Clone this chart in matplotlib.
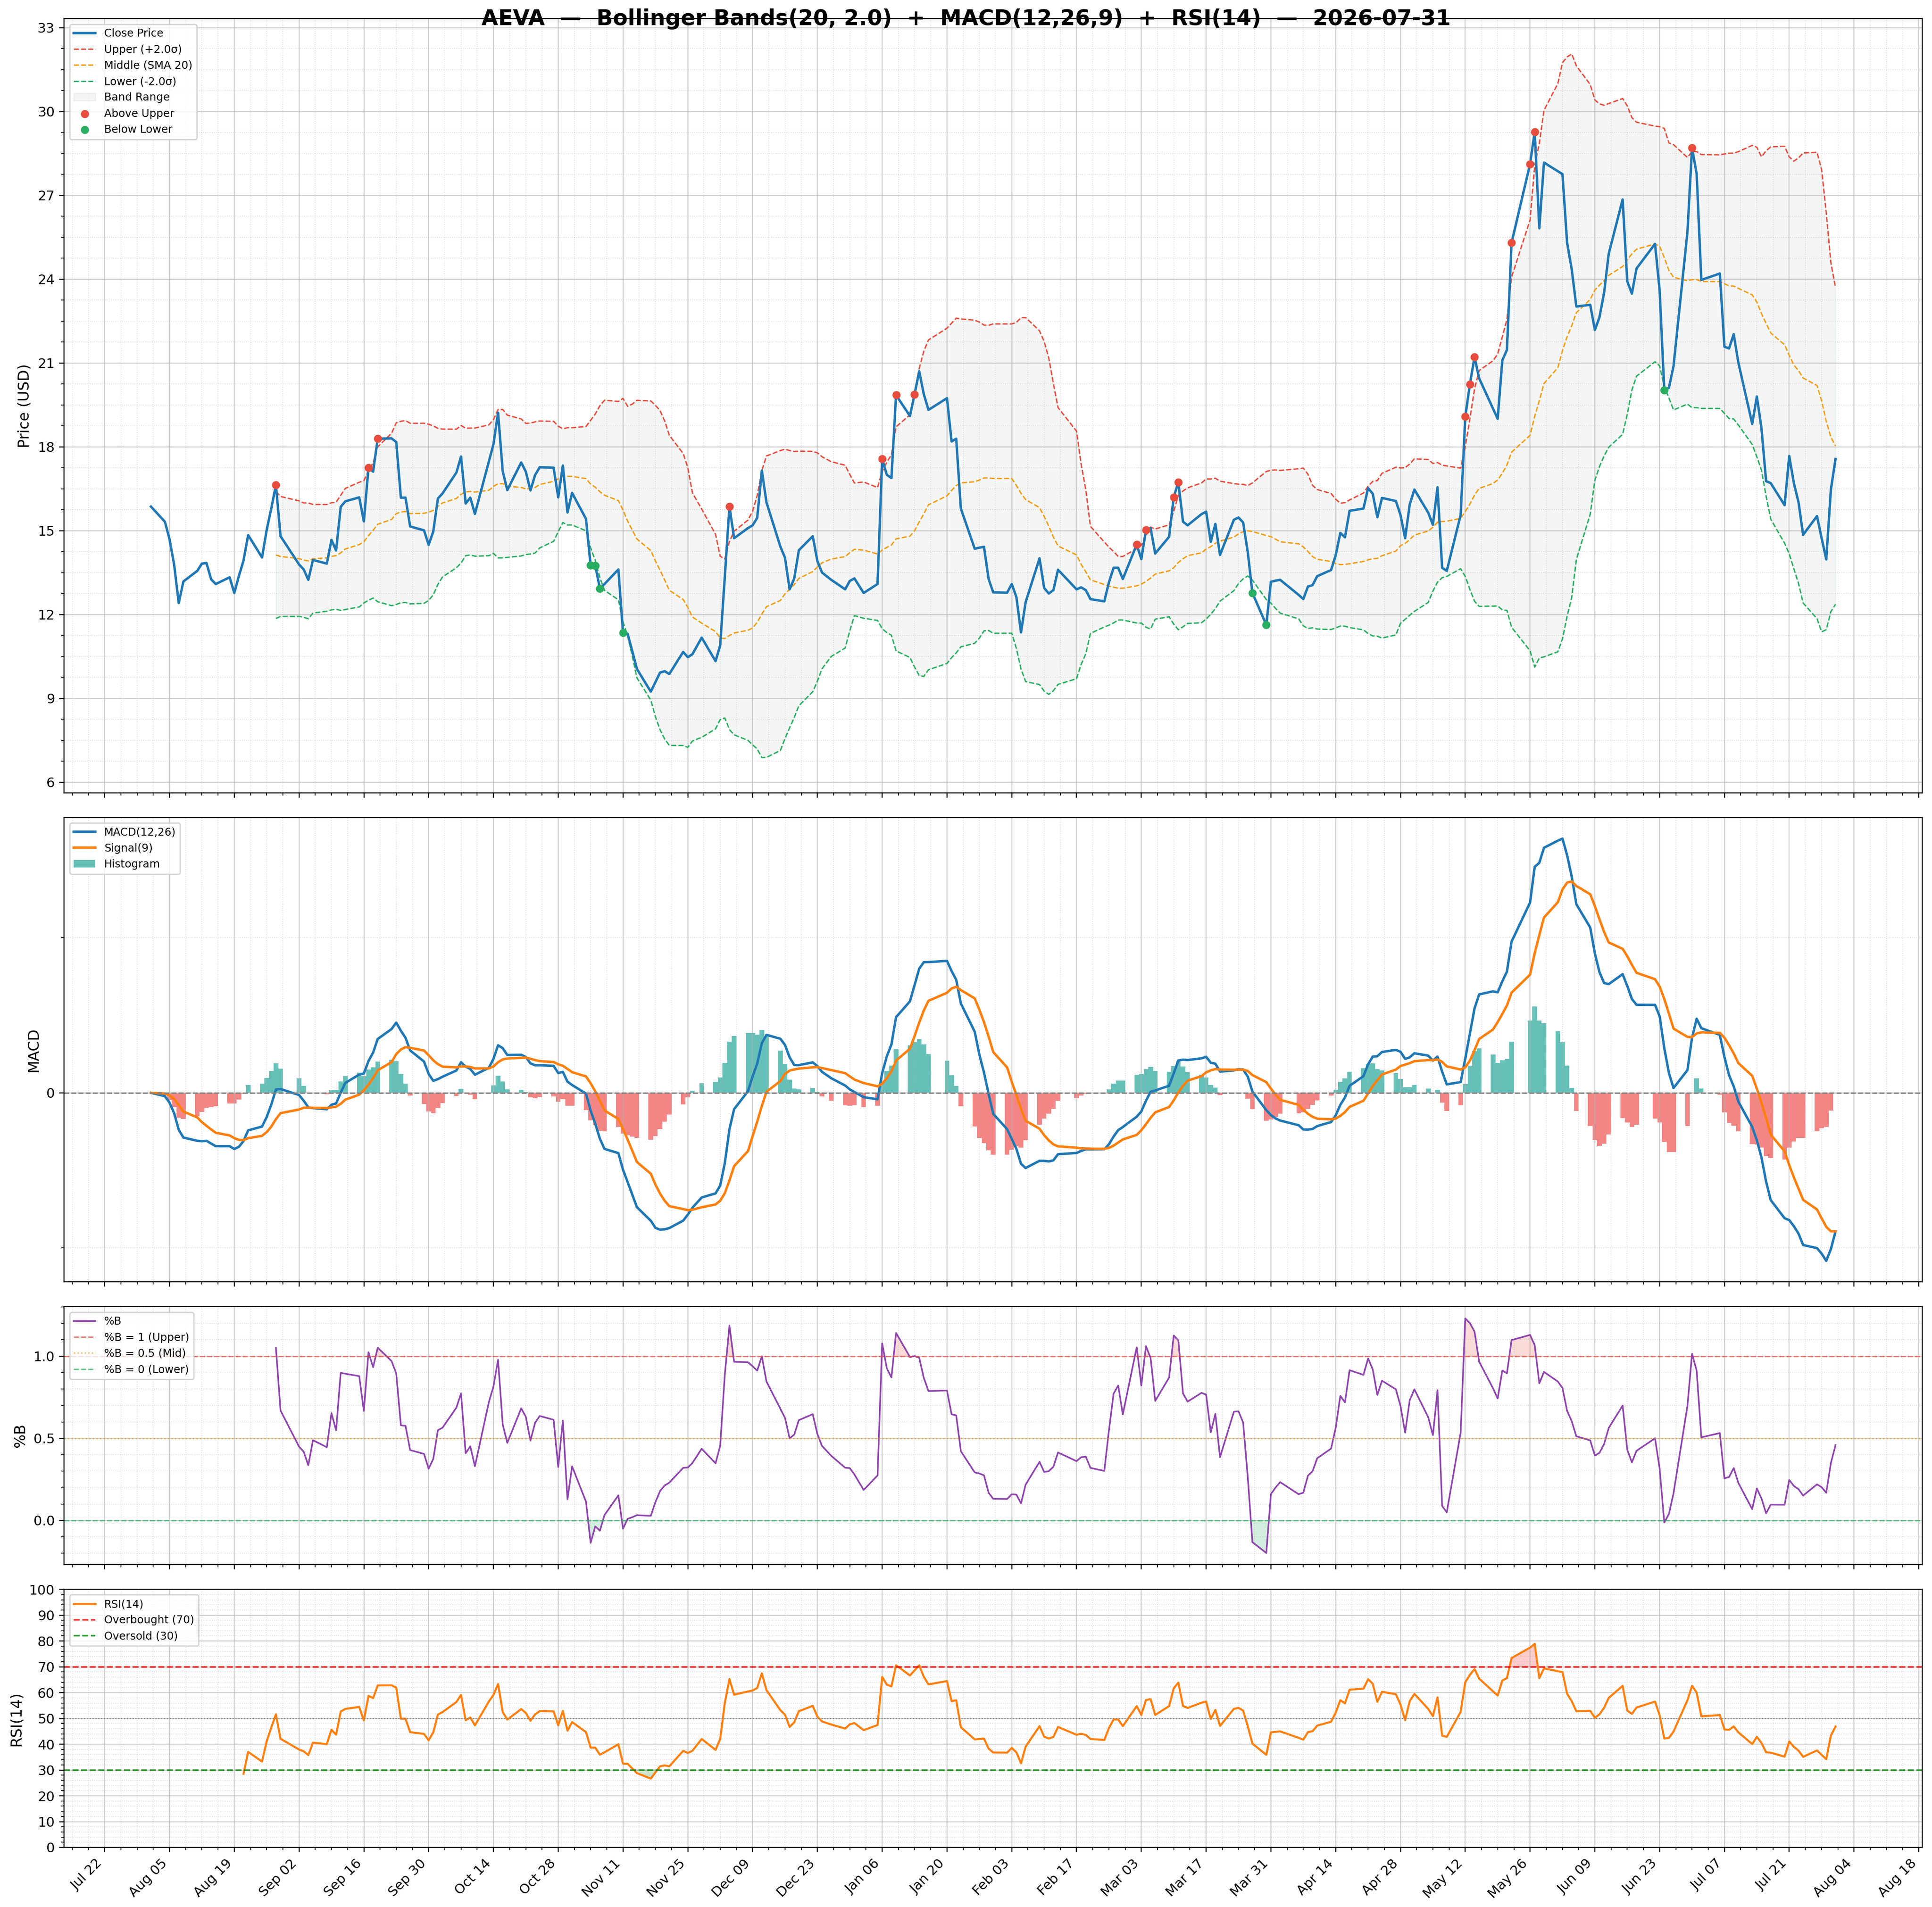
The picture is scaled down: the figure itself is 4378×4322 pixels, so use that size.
import numpy as np
import pandas as pd
import matplotlib
matplotlib.use("Agg")
import matplotlib.pyplot as plt
import matplotlib.dates as mdates
from matplotlib.ticker import MultipleLocator, AutoMinorLocator, FixedLocator

# daily closes on trading days, Aug 2025 -> Jul 2026
close_aug = [15.86, 15.32, 14.70, 13.79, 12.41, 13.18, 13.56, 13.82, 13.84, 13.26, 13.09,
             13.33, 12.77, 13.38, 13.93, 14.84, 14.04, 15.02, 15.80, 16.63, 14.80]
close_sep = [13.79, 13.61, 13.24, 13.95, 13.82, 14.67, 14.29, 15.85, 16.05, 16.19,
             15.33, 17.25, 17.11, 18.29, 18.30, 18.17, 16.18, 16.18, 15.15, 15.01, 14.49]
close_oct = [14.97, 16.15, 16.33, 17.08, 17.65, 15.97, 16.18, 15.60, 17.47, 18.09, 19.22,
             17.13, 16.45, 17.44, 17.11, 16.44, 16.99, 17.27, 17.25, 16.19, 17.33, 15.65, 16.35]
close_nov = [15.42, 13.76, 13.75, 12.93, 13.09, 13.61, 11.34, 11.31, 10.69, 10.05, 9.24,
             9.58, 9.92, 9.97, 9.87, 10.66, 10.47, 10.58, 11.17]
close_dec = [10.33, 10.90, 13.36, 15.87, 14.73, 15.09, 15.19, 15.46, 17.15, 16.01, 14.43,
             14.03, 12.90, 13.29, 14.30, 14.80, 13.91, 13.50, 13.24, 12.90, 13.20, 13.29]
close_jan = [12.77, 13.09, 17.56, 17.00, 16.88, 19.85, 19.10, 19.88, 20.70, 19.88,
             19.32, 19.74, 18.19, 18.29, 15.79, 14.35, 14.39, 14.42, 13.27, 12.79]
close_feb = [12.78, 13.09, 12.62, 11.36, 12.44, 14.01, 12.95, 12.75, 12.87, 13.60,
             12.90, 12.97, 12.87, 12.55, 12.47, 13.15, 13.67, 13.67, 13.27]
close_mar = [14.50, 13.98, 15.02, 15.09, 14.18, 14.78, 16.20, 16.73, 15.32, 15.19, 15.59,
             15.68, 14.60, 15.24, 14.13, 15.39, 15.47, 15.29, 14.23, 12.77, 11.63, 13.17]
close_apr = [13.21, 13.24, 12.70, 12.55, 13.00, 13.05, 13.37, 13.59, 14.12, 14.92,
             14.76, 15.71, 15.79, 16.52, 16.32, 15.48, 16.17, 16.06, 15.56, 14.73, 15.94]
close_may = [16.47, 15.64, 15.21, 16.55, 13.67, 13.56, 15.56, 19.08, 20.24, 21.21, 20.45,
             19.36, 19.00, 21.09, 21.47, 25.30, 28.12, 29.27, 25.82, 28.17]
close_jun = [27.86, 27.76, 25.30, 24.35, 23.02, 23.08, 22.18, 22.64, 23.52, 24.91, 26.85,
             23.92, 23.48, 24.38, 25.26, 23.59, 20.03, 20.11, 20.89, 25.68, 28.70]
close_jul = [27.76, 23.97, 24.20, 21.58, 21.52, 22.03, 21.02, 18.82, 19.80, 18.67,
             16.77, 16.70, 15.91, 17.67, 16.70, 16.02, 14.85, 15.52, 14.73, 13.97, 16.47, 17.56]

# market holidays (no bar on these days)
holidays = ["2025-09-01", "2025-11-27", "2025-12-25", "2026-01-01", "2026-01-19",
            "2026-02-16", "2026-04-03", "2026-05-25", "2026-06-19", "2026-07-03"]

ticker = "AEVA"
end_date = "2026-07-31"

dates = pd.bdate_range("2025-08-01", end_date, freq="C", holidays=holidays)
close = pd.Series(close_aug + close_sep + close_oct + close_nov + close_dec + close_jan +
                  close_feb + close_mar + close_apr + close_may + close_jun + close_jul,
                  index=dates)

# indicators
win, k = 20, 2.0
mid = close.rolling(win).mean()
sd = close.rolling(win).std()
upper = mid + k * sd
lower = mid - k * sd
pctb = (close - lower) / (upper - lower)

ema12 = close.ewm(span=12, adjust=False).mean()
ema26 = close.ewm(span=26, adjust=False).mean()
macd = ema12 - ema26
signal = macd.ewm(span=9, adjust=False).mean()
hist = macd - signal

delta = close.diff()
gain = delta.clip(lower=0).ewm(alpha=1/14, adjust=False, min_periods=14).mean()
loss = (-delta.clip(upper=0)).ewm(alpha=1/14, adjust=False, min_periods=14).mean()
rsi = 100 - 100 / (1 + gain / loss)

above = close > upper
below = close < lower

# figure
fig = plt.figure(figsize=(4378/220, 4322/220), dpi=220)
gs = fig.add_gridspec(4, 1, height_ratios=[3, 1.8, 1, 1], left=0.03323, right=0.99497,
                      top=0.99019, bottom=0.031236, hspace=0.0563)
ax1 = fig.add_subplot(gs[0])
ax2 = fig.add_subplot(gs[1], sharex=ax1)
ax3 = fig.add_subplot(gs[2], sharex=ax1)
ax4 = fig.add_subplot(gs[3], sharex=ax1)

ax1.plot(dates, close, color="#1f77b4", lw=1.8, label="Close Price", zorder=3)
ax1.plot(dates, upper, color="#e74c3c", lw=1.0, ls="--", label="Upper (+2.0σ)")
ax1.plot(dates, mid, color="#f39c12", lw=1.0, ls="--", label="Middle (SMA 20)")
ax1.plot(dates, lower, color="#27ae60", lw=1.0, ls="--", label="Lower (-2.0σ)")
ax1.fill_between(dates, lower, upper, color="#95a5a6", alpha=0.1, label="Band Range")
ax1.scatter(dates[above], close[above], color="#e74c3c", s=25, zorder=5, label="Above Upper")
ax1.scatter(dates[below], close[below], color="#27ae60", s=25, zorder=5, label="Below Lower")
ax1.set_ylabel("Price (USD)", fontsize=11)
ax1.yaxis.set_major_locator(MultipleLocator(3))
ax1.yaxis.set_minor_locator(AutoMinorLocator())
ax1.legend(loc="upper left", fontsize=8)

ax2.plot(dates, macd, color="#1f77b4", lw=1.8, label="MACD(12,26)")
ax2.plot(dates, signal, color="#ff7f0e", lw=1.8, label="Signal(9)")
hcol = np.where(hist >= 0, "#26a69a", "#ef5350")
ax2.bar(dates, hist, width=1.0, color=hcol, alpha=0.7, label="Histogram")
ax2.axhline(0, color="gray", lw=1, ls="--")
ax2.set_ylabel("MACD", fontsize=11)
ax2.yaxis.set_major_locator(FixedLocator([0]))
ax2.yaxis.set_minor_locator(FixedLocator([-2, 2]))
ax2.legend(loc="upper left", fontsize=8)

ax3.plot(dates, pctb, color="#8e44ad", lw=1.2, label="%B")
ax3.axhline(1, color="#e74c3c", lw=1, ls="--", alpha=0.7, label="%B = 1 (Upper)")
ax3.axhline(0.5, color="#f39c12", lw=1, ls=":", alpha=0.7, label="%B = 0.5 (Mid)")
ax3.axhline(0, color="#27ae60", lw=1, ls="--", alpha=0.7, label="%B = 0 (Lower)")
ax3.fill_between(dates, pctb, 1, where=pctb > 1, color="#e74c3c", alpha=0.2, interpolate=True)
ax3.fill_between(dates, pctb, 0, where=pctb < 0, color="#27ae60", alpha=0.2, interpolate=True)
ax3.set_ylabel("%B", fontsize=11)
ax3.yaxis.set_major_locator(MultipleLocator(0.5))
ax3.yaxis.set_minor_locator(AutoMinorLocator())
ax3.legend(loc="upper left", fontsize=8)

ax4.plot(dates, rsi, color="#ff7f0e", lw=1.5, label="RSI(14)")
ax4.axhline(70, color="red", lw=1.2, ls="--", alpha=0.8, label="Overbought (70)")
ax4.axhline(30, color="green", lw=1.2, ls="--", alpha=0.8, label="Oversold (30)")
ax4.axhline(50, color="gray", lw=0.8, ls=":")
ax4.fill_between(dates, rsi, 70, where=rsi > 70, color="red", alpha=0.2, interpolate=True)
ax4.fill_between(dates, rsi, 30, where=rsi < 30, color="green", alpha=0.2, interpolate=True)
ax4.set_ylim(0, 100)
ax4.set_yticks(range(0, 101, 10))
ax4.yaxis.set_minor_locator(AutoMinorLocator())
ax4.set_ylabel("RSI(14)", fontsize=11)
ax4.legend(loc="upper left", fontsize=8)

xt = pd.date_range("2025-07-22", "2026-08-18", freq="14D")
ax4.xaxis.set_major_locator(FixedLocator(mdates.date2num(xt)))
ax4.xaxis.set_major_formatter(mdates.DateFormatter("%b %d"))
ax4.xaxis.set_minor_locator(AutoMinorLocator())

for ax in (ax1, ax2, ax3, ax4):
    ax.grid(True, which="major", alpha=0.6, lw=0.8)
    ax.grid(True, which="minor", ls=":", alpha=0.4, lw=0.6)
for ax in (ax1, ax2, ax3):
    plt.setp(ax.get_xticklabels(), visible=False)
plt.setp(ax4.get_xticklabels(), rotation=45, ha="right")

fig.suptitle(f"{ticker}  —  Bollinger Bands(20, 2.0)  +  MACD(12,26,9)  +  RSI(14)  —  {end_date}",
             fontsize=16, fontweight="bold", y=0.9955, va="top")

fig.savefig("out.png", dpi=220)
